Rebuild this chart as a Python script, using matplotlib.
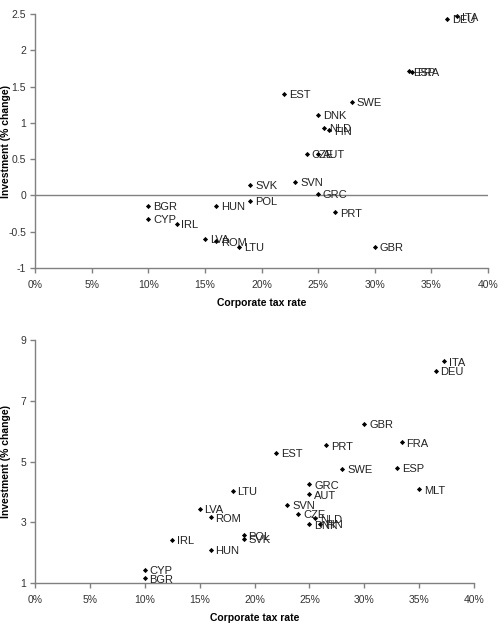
import matplotlib
matplotlib.use("Agg")
import matplotlib.pyplot as plt
from matplotlib.ticker import FuncFormatter

plt.rcParams['font.family'] = ['Liberation Sans', 'DejaVu Sans']

# Top panel data
top_countries = ["ITA", "DEU", "ESP", "FRA", "EST", "SWE", "DNK", "NLD", "FIN", "CZE", "AUT",
                 "SVK", "SVN", "GRC", "POL", "BGR", "HUN", "PRT", "CYP", "IRL", "LVA", "ROM",
                 "LTU", "GBR"]
top_tax = [37.25, 36.4, 33.0, 33.33, 22.0, 28.0, 25.0, 25.5, 26.0, 24.0, 25.0,
           19.0, 23.0, 25.0, 19.0, 10.0, 16.0, 26.5, 10.0, 12.5, 15.0, 16.0,
           18.0, 30.0]
top_inv = [2.47, 2.43, 1.71, 1.70, 1.40, 1.29, 1.11, 0.93, 0.90, 0.57, 0.57,
           0.15, 0.19, 0.025, -0.076, -0.145, -0.145, -0.23, -0.32, -0.39, -0.60, -0.63,
           -0.71, -0.71]

# Bottom panel data
bot_countries = ["ITA", "DEU", "GBR", "FRA", "PRT", "EST", "SWE", "ESP", "GRC", "AUT", "MLT",
                 "LTU", "SVN", "LVA", "CZE", "ROM", "NLD", "DNK", "FIN", "POL", "SVK", "IRL",
                 "HUN", "CYP", "BGR"]
bot_tax = [37.3, 36.5, 30.0, 33.4, 26.5, 22.0, 28.0, 33.0, 25.0, 25.0, 35.0,
           18.0, 23.0, 15.0, 24.0, 16.0, 25.5, 25.0, 26.0, 19.0, 19.0, 12.5,
           16.0, 10.0, 10.0]
bot_inv = [8.30, 7.99, 6.24, 5.63, 5.53, 5.28, 4.75, 4.79, 4.25, 3.92, 4.08,
           4.03, 3.57, 3.44, 3.27, 3.16, 3.13, 2.93, 2.95, 2.57, 2.46, 2.43,
           2.10, 1.44, 1.16]

top_yticks = [-1, -0.5, 0, 0.5, 1, 1.5, 2, 2.5]
bot_yticks = [1, 3, 5, 7, 9]
xticks = [0, 5, 10, 15, 20, 25, 30, 35, 40]

W, H = 503, 626
fig = plt.figure(figsize=(W / 100, H / 100), dpi=100)

gray = "#808080"

def style(ax):
    for s in ["top", "right"]:
        ax.spines[s].set_visible(False)
    for s in ["left", "bottom"]:
        ax.spines[s].set_color(gray)
        ax.spines[s].set_linewidth(1.0)
    ax.tick_params(axis="both", colors=gray, labelcolor="#333333", labelsize=7.5, length=3.5, width=1.0, direction="out")
    ax.tick_params(axis="x", pad=5)
    ax.tick_params(axis="y", pad=3)
    ax.set_xticks(xticks)
    ax.xaxis.set_major_formatter(FuncFormatter(lambda v, p: f"{int(round(v))}%"))
    ax.set_xlim(0, 40)
    ax.set_xlabel("Corporate tax rate", fontsize=7.5, fontweight="bold", labelpad=6)
    ax.set_ylabel("Investment (% change)", fontsize=7.5, fontweight="bold")

def draw(ax, names, xs, ys):
    ax.scatter(xs, ys, marker="D", s=7, color="black", zorder=3, linewidths=0)
    for n, x, y in zip(names, xs, ys):
        ax.annotate(n, (x, y), xytext=(3.5, -1), textcoords="offset points",
                    va="center", ha="left", fontsize=8, color="#222222")

ax1 = fig.add_axes([35 / W, 1 - 268 / H, (488 - 35) / W, (268 - 14) / H])
style(ax1)
ax1.set_ylim(-1, 2.5)
ax1.set_yticks(top_yticks)
ax1.set_yticklabels([f"{v:g}" for v in top_yticks])
ax1.axhline(0, color=gray, linewidth=1.0, zorder=1)
draw(ax1, top_countries, top_tax, top_inv)
ax1.yaxis.set_label_coords((11 - 35) / 453, 0.5)

ax2 = fig.add_axes([35 / W, 1 - 583 / H, (474 - 35) / W, (583 - 340) / H])
style(ax2)
ax2.set_ylim(1, 9)
ax2.set_yticks(bot_yticks)
draw(ax2, bot_countries, bot_tax, bot_inv)
ax2.yaxis.set_label_coords((11 - 35) / 439, 0.5)

fig.savefig("out.png", dpi=100)
